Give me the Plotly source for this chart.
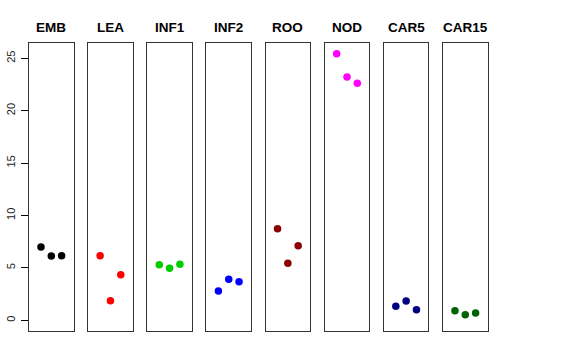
import plotly.graph_objects as go

groups = ["EMB", "LEA", "INF1", "INF2", "ROO", "NOD", "CAR5", "CAR15"]
values = [
    [7.0, 6.14, 6.16],
    [6.16, 1.87, 4.35],
    [5.31, 4.96, 5.34],
    [2.80, 3.91, 3.68],
    [8.74, 5.44, 7.12],
    [25.44, 23.21, 22.61],
    [1.34, 1.84, 1.01],
    [0.92, 0.53, 0.70],
]
colors = ["#000000", "#FF0000", "#00CD00", "#0000FF", "#8B0000", "#FF00FF", "#000080", "#006400"]
reps = [1, 2, 3]
y_ticks = [0, 5, 10, 15, 20, 25]

W, H = 576, 360
L, R, T, B = 29, 88, 43, 29
pw = W - L - R
step = 59.14
width = 44.6

fig = go.Figure()
layout = dict(
    width=W, height=H, margin=dict(l=L, r=R, t=T, b=B, autoexpand=False),
    plot_bgcolor="white", paper_bgcolor="white", showlegend=False,
    font=dict(family="Liberation Sans, Arial, sans-serif", color="black"),
)
ymin, ymax = -1.02, 26.46
annotations = []
for i, (g, v, c) in enumerate(zip(groups, values, colors)):
    n = "" if i == 0 else str(i + 1)
    x0 = (step * i) / pw
    x1 = min((step * i + width) / pw, 1)
    fig.add_trace(go.Scatter(x=reps, y=v, mode="markers",
                             marker=dict(color=c, size=7.5),
                             xaxis="x" + n, yaxis="y" + n, cliponaxis=False))
    layout["xaxis" + n] = dict(domain=[x0, x1], range=[-0.16, 4.16], anchor="y" + n,
                               showticklabels=False, ticks="", showgrid=False, zeroline=False,
                               automargin=False,
                               showline=True, mirror=True, linecolor="#333", linewidth=1)
    yax = dict(range=[ymin, ymax], anchor="x" + n, showgrid=False, zeroline=False,
               automargin=False,
               showline=True, mirror=True, linecolor="#333", linewidth=1)
    if i == 0:
        yax.update(tickvals=y_ticks, ticks="outside", ticklen=7, tickcolor="black",
                   tickangle=-90, ticklabelstandoff=2, tickfont=dict(size=11, color="#222"))
    else:
        yax.update(showticklabels=False, ticks="", matches="y")
    layout["yaxis" + n] = yax
    annotations.append(dict(text="<b>" + g + "</b>", x=(x0 + x1) / 2, xref="paper",
                            xanchor="center",
                            y=1, yref="paper", yanchor="bottom", yshift=6, showarrow=False,
                            font=dict(size=13.5, color="black")))
layout["annotations"] = annotations
fig.update_layout(**layout)
fig.write_html("out.html", config={"displayModeBar": False},
               post_script="document.body.style.margin='0';")
